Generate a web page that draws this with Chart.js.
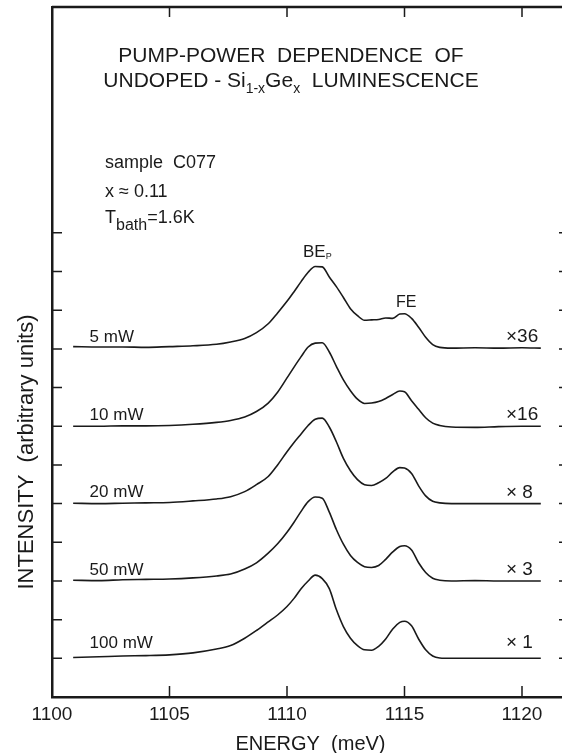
<!DOCTYPE html>
<html>
<head>
<meta charset="utf-8">
<script src="https://cdn.jsdelivr.net/npm/chart.js@4.4.1/dist/chart.umd.min.js"></script>
<style>
html, body { margin: 0; padding: 0; background: #fff; overflow: hidden; }
#wrap { position: relative; width: 600px; height: 753px; }
</style>
</head>
<body>
<div id="wrap"><canvas id="pl"></canvas></div>
<script>
// photon energy (meV), shared by all spectra
var energy = [1100.9, 1102, 1103, 1104, 1105, 1106, 1107, 1107.6, 1108.2, 1108.7,
  1109.2, 1109.6, 1110.0, 1110.3, 1110.6, 1110.9, 1111.2, 1111.5, 1111.8, 1112.1,
  1112.4, 1112.7, 1113.0, 1113.3, 1113.6, 1113.9, 1114.2, 1114.5, 1114.8, 1115.0,
  1115.3, 1115.6, 1115.9, 1116.2, 1116.5, 1117, 1118, 1119, 1120, 1120.8];

// scaled intensity above each trace's baseline
var mw100 = [0.02, 0.04, 0.06, 0.07, 0.09, 0.14, 0.24, 0.33, 0.52, 0.72,
  0.94, 1.12, 1.34, 1.55, 1.80, 2.00, 2.15, 2.06, 1.80, 1.26,
  0.82, 0.52, 0.33, 0.22, 0.21, 0.31, 0.50, 0.76, 0.93, 0.96,
  0.84, 0.50, 0.22, 0.06, 0.01, 0.00, 0.00, 0.00, 0.00, 0.00];
var mw50 = [0.02, 0.01, 0.03, 0.04, 0.05, 0.08, 0.13, 0.18, 0.31, 0.47,
  0.72, 0.96, 1.26, 1.52, 1.80, 2.05, 2.17, 2.14, 1.78, 1.33,
  0.95, 0.66, 0.48, 0.37, 0.35, 0.40, 0.56, 0.75, 0.89, 0.91,
  0.80, 0.47, 0.22, 0.07, 0.02, 0.00, 0.01, 0.00, 0.00, 0.00];
var mw20 = [0.01, 0.00, 0.01, 0.02, 0.03, 0.07, 0.12, 0.18, 0.31, 0.49,
  0.70, 1.00, 1.34, 1.58, 1.80, 2.02, 2.18, 2.21, 1.98, 1.60,
  1.17, 0.85, 0.62, 0.49, 0.47, 0.54, 0.65, 0.82, 0.93, 0.92,
  0.78, 0.46, 0.20, 0.06, 0.02, 0.00, 0.00, 0.00, 0.00, 0.00];
var mw10 = [0.00, 0.00, 0.01, 0.01, 0.02, 0.05, 0.10, 0.15, 0.24, 0.38,
  0.60, 0.88, 1.25, 1.53, 1.80, 2.05, 2.15, 2.16, 1.92, 1.55,
  1.20, 0.92, 0.70, 0.59, 0.60, 0.64, 0.72, 0.82, 0.91, 0.89,
  0.66, 0.44, 0.22, 0.08, 0.02, -0.02, -0.03, -0.01, 0.00, 0.00];
var mw5 = [0.06, 0.05, 0.05, 0.04, 0.06, 0.08, 0.12, 0.18, 0.27, 0.42,
  0.65, 0.93, 1.23, 1.48, 1.74, 1.98, 2.13, 2.12, 1.86, 1.61,
  1.33, 1.04, 0.86, 0.74, 0.75, 0.76, 0.80, 0.79, 0.90, 0.91,
  0.79, 0.56, 0.30, 0.11, 0.04, 0.02, 0.03, 0.02, 0.03, 0.02];

var series = [mw100, mw50, mw20, mw10, mw5];
var offsets = [1, 3, 5, 7, 9];
var powerLabels = ['100 mW', '50 mW', '20 mW', '10 mW', '5 mW'];
var factorLabels = ['\u00d7 1', '\u00d7 3', '\u00d7 8', '\u00d716', '\u00d736'];
var xTicks = [1100, 1105, 1110, 1115, 1120];
var yTicks = [1, 2, 3, 4, 5, 6, 7, 8, 9, 10, 11, 12];

var labelLift = [0.40, 0.28, 0.28, 0.29, 0.31];
var ink = '#1a1a1a';
var font = "'Liberation Sans', Arial, sans-serif";

function rich(ctx, parts, x, y, align) {
  var w = 0;
  parts.forEach(function (p) { ctx.font = p[1] + 'px ' + font; w += ctx.measureText(p[0]).width; });
  var cx = align === 'center' ? x - w / 2 : x;
  ctx.textAlign = 'left';
  ctx.textBaseline = 'alphabetic';
  parts.forEach(function (p) {
    ctx.font = p[1] + 'px ' + font;
    ctx.fillText(p[0], cx, y + (p[2] || 0));
    cx += ctx.measureText(p[0]).width;
  });
}

var frame = {
  id: 'frame',
  afterDraw: function (chart) {
    var ctx = chart.ctx, a = chart.chartArea, xs = chart.scales.x, ys = chart.scales.y;
    ctx.save();
    ctx.strokeStyle = ink;
    ctx.fillStyle = ink;
    ctx.lineWidth = 2.5;
    ctx.beginPath();
    ctx.moveTo(a.left, a.top); ctx.lineTo(a.right, a.top); ctx.lineTo(a.right, a.bottom);
    ctx.stroke();

    // inward tick marks
    ctx.lineWidth = 1.5;
    ctx.beginPath();
    xTicks.slice(1).forEach(function (v) {
      var p = xs.getPixelForValue(v);
      ctx.moveTo(p, a.bottom); ctx.lineTo(p, a.bottom - 11);
      ctx.moveTo(p, a.top); ctx.lineTo(p, a.top + 10);
    });
    yTicks.forEach(function (v) {
      var p = ys.getPixelForValue(v);
      ctx.moveTo(a.left, p); ctx.lineTo(a.left + 10, p);
      ctx.moveTo(a.right, p); ctx.lineTo(a.right - 10, p);
    });
    ctx.stroke();

    // titles and notes
    rich(ctx, [['PUMP-POWER  DEPENDENCE  OF', 21]], 291, 62, 'center');
    rich(ctx, [['UNDOPED - Si', 21], ['1-x', 14, 6], ['Ge', 21], ['x', 14, 6], ['  LUMINESCENCE', 21]], 291, 87, 'center');
    rich(ctx, [['sample  C077', 18]], 105, 168);
    rich(ctx, [['x \u2248 0.11', 18]], 105, 197);
    rich(ctx, [['T', 18], ['bath', 16, 7], ['=1.6K', 18]], 105, 223);
    rich(ctx, [['BE', 17], ['P', 9, 2]], 303, 257);
    rich(ctx, [['FE', 16]], 396, 307);

    // trace labels
    ctx.textBaseline = 'middle';
    ctx.textAlign = 'left';
    ctx.font = '17px ' + font;
    powerLabels.forEach(function (t, i) {
      var y = ys.getPixelForValue(offsets[i] + labelLift[i]);
      ctx.fillText(t, xs.getPixelForValue(1101.6), y);
    });
    ctx.font = '19px ' + font;
    factorLabels.forEach(function (t, i) {
      var y = ys.getPixelForValue(offsets[i] + labelLift[i]);
      ctx.fillText(t, 506, y);
    });

    // axis titles
    ctx.textAlign = 'center';
    ctx.textBaseline = 'alphabetic';
    ctx.font = '20px ' + font;
    ctx.fillText('ENERGY  (meV)', (a.left + a.right) / 2, 750);
    ctx.translate(27, 452);
    ctx.rotate(-Math.PI / 2);
    ctx.textBaseline = 'middle';
    ctx.font = '22px ' + font;
    ctx.fillText('INTENSITY  (arbitrary units)', 0, 0);
    ctx.restore();
  }
};

var datasets = series.map(function (s, i) {
  return {
    label: powerLabels[i],
    data: energy.map(function (e, j) { return { x: e, y: offsets[i] + s[j] }; }),
    borderColor: ink,
    borderWidth: 1.6,
    pointRadius: 0,
    fill: false,
    cubicInterpolationMode: 'monotone'
  };
});

var chart = new Chart(document.getElementById('pl').getContext('2d'), {
  type: 'line',
  data: { datasets: datasets },
  options: {
    responsive: true,
    maintainAspectRatio: false,
    animation: false,
    layout: { padding: { top: 7, right: 31, left: 0, bottom: 0 } },
    plugins: { legend: { display: false }, tooltip: { enabled: false } },
    scales: {
      x: {
        type: 'linear', min: 1100, max: 1122,
        afterFit: function (s) { s.height = 56; },
        grid: { display: false, drawTicks: false },
        border: { display: true, color: ink, width: 2.5 },
        ticks: {
          stepSize: 5, includeBounds: false, padding: 6, maxRotation: 0,
          color: ink, font: { family: font, size: 19 },
          callback: function (v) { return String(v); }
        }
      },
      y: {
        min: 0, max: 17.84,
        afterFit: function (s) { s.width = 52; },
        grid: { display: false, drawTicks: false },
        border: { display: true, color: ink, width: 2.5 },
        ticks: { display: false }
      }
    }
  },
  plugins: [frame]
});
</script>
</body>
</html>
